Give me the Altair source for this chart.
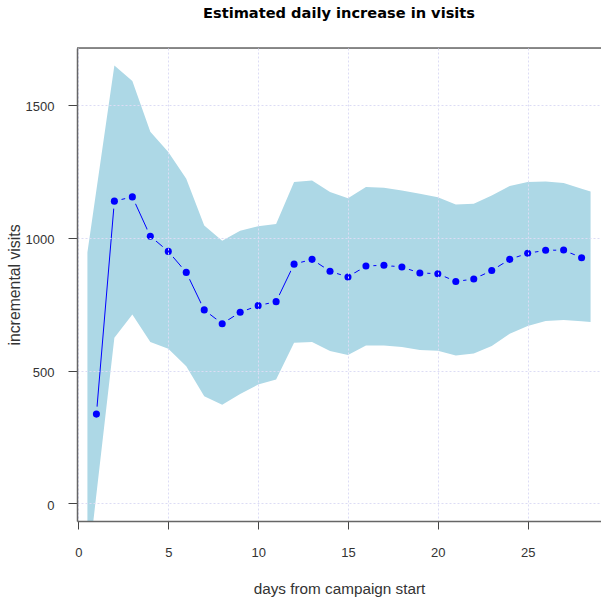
import altair as alt
import pandas as pd

# ---- data ----
days = list(range(1, 29))
estimate = [336, 1137, 1153, 1005, 948, 869, 728, 676, 719, 744, 759, 900,
            918, 873, 852, 893, 896, 889, 867, 864, 835, 844, 876, 918,
            941, 952, 953, 924]

band_days = [0.5] + list(range(2, 29)) + [28.5]
upper = [945, 1647, 1589, 1398, 1322, 1221, 1045, 988, 1026, 1043, 1051, 1209,
         1215, 1171, 1148, 1190, 1187, 1177, 1165, 1152, 1124, 1127, 1158,
         1194, 1209, 1211, 1205, 1184, 1173]
lower = [-260, 623, 711, 607, 582, 516, 403, 371, 412, 447, 466, 604,
         607, 573, 558, 594, 594, 588, 577, 574, 556, 564, 592, 638,
         667, 686, 690, 685, 682]

x_ticks = [0, 5, 10, 15, 20, 25]
y_ticks = [0, 500, 1000, 1500]

pts = pd.DataFrame({"day": days, "estimate": estimate})
band = pd.DataFrame({"day": band_days, "upper": upper, "lower": lower})

FONT = "Liberation Sans"
TFONT = "DejaVu Sans"
BAND = "#ADD8E6"
GRID = "#dcdcf5"
W, H = 524, 473

xs = alt.Scale(domain=[-0.08, 29.08], nice=False, zero=False)
ys = alt.Scale(domain=[-66, 1713], nice=False, zero=False)

xaxis = alt.Axis(
    values=x_ticks, title="days from campaign start", grid=True, format="d",
    gridColor=GRID, gridDash=[2, 2], gridWidth=1,
    domain=True, domainColor="#666666", domainWidth=1.5,
    ticks=True, tickSize=8, tickColor="#444444", tickWidth=1,
    labelFont=FONT, labelFontSize=13, labelColor="#333333",
    labelBaseline="alphabetic", labelPadding=27, labelFlush=False,
    titleFont=FONT, titleFontSize=15.3, titleFontWeight="normal",
    titleColor="#333333", titleX=W / 2, titleY=72,
    titleBaseline="alphabetic", titleAlign="center", zindex=1,
)
yaxis = alt.Axis(
    values=y_ticks, title="incremental visits", grid=True, format="d",
    gridColor=GRID, gridDash=[2, 2], gridWidth=1,
    domain=True, domainColor="#666666", domainWidth=1.5,
    ticks=True, tickSize=9, tickColor="#444444", tickWidth=1,
    labelFont=FONT, labelFontSize=13, labelColor="#333333",
    labelBaseline="middle", labelPadding=14, labelOffset=2, labelFlush=False,
    titleFont=FONT, titleFontSize=15.8, titleFontWeight="normal",
    titleColor="#333333", titleX=-63, titleY=H / 2, titleAngle=270,
    titleAlign="center", titleBaseline="middle", zindex=1,
)

band_layer = alt.Chart(band).mark_area(color=BAND, opacity=1, clip=True).encode(
    x=alt.X("day:Q", scale=xs, axis=xaxis),
    y=alt.Y("upper:Q", scale=ys, axis=yaxis),
    y2="lower:Q",
)

line_layer = alt.Chart(pts).mark_line(color="#0000FF", strokeWidth=1, clip=True).encode(
    x=alt.X("day:Q", scale=xs, axis=xaxis),
    y=alt.Y("estimate:Q", scale=ys, axis=yaxis),
)

# gaps around points (like R type="b"), drawn in band colour
halo_layer = alt.Chart(pts).mark_circle(color=BAND, opacity=1, size=225, clip=True).encode(
    x=alt.X("day:Q", scale=xs, axis=xaxis),
    y=alt.Y("estimate:Q", scale=ys, axis=yaxis),
)

point_layer = alt.Chart(pts).mark_circle(color="#0000FF", opacity=1, size=50, clip=True).encode(
    x=alt.X("day:Q", scale=xs, axis=xaxis),
    y=alt.Y("estimate:Q", scale=ys, axis=yaxis),
)

top_border = alt.Chart(pd.DataFrame({"k": [0]})).mark_rule(
    color="#666666", strokeWidth=1.5
).encode(x=alt.value(0), x2=alt.value(W), y=alt.value(0))

chart = alt.layer(band_layer, line_layer, halo_layer, point_layer, top_border).properties(
    width=W, height=H,
    title=alt.Title(
        "Estimated daily increase in visits", font=TFONT, fontSize=14.6,
        fontWeight="bold", color="black", anchor="middle", frame="group",
        baseline="alphabetic", offset=15,
    ),
    autosize=alt.AutoSizeParams(type="none"),
    padding={"left": 77, "top": 48, "right": 0, "bottom": 78},
).configure_view(stroke=None).configure(background="white")

chart.save("out.html", embed_options={"renderer": "svg", "actions": False})
